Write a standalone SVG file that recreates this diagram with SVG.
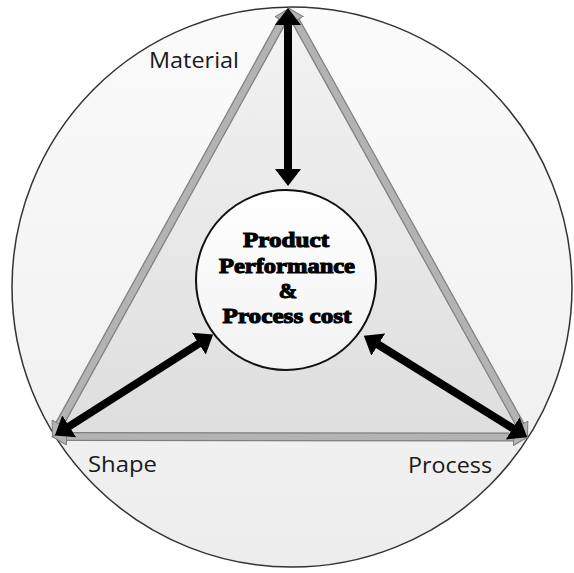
<svg xmlns="http://www.w3.org/2000/svg" width="574" height="573" viewBox="0 0 574 573">
<defs>
<linearGradient id="gOuter" x1="0" y1="0" x2="0" y2="1">
<stop offset="0" stop-color="#fbfbfb"/>
<stop offset="1" stop-color="#ededed"/>
</linearGradient>
<linearGradient id="gTri" x1="0" y1="0" x2="0" y2="1">
<stop offset="0" stop-color="#f3f3f3"/>
<stop offset="1" stop-color="#dedede"/>
</linearGradient>
<linearGradient id="gInner" x1="0" y1="0" x2="0" y2="1">
<stop offset="0" stop-color="#ffffff"/>
<stop offset="1" stop-color="#f2f2f2"/>
</linearGradient>
<marker id="ah" markerUnits="userSpaceOnUse" viewBox="0 0 17 26" markerWidth="17" markerHeight="26" refX="5" refY="13" orient="auto-start-reverse">
<path d="M0,0 L17,13 L0,26 z" fill="#000"/>
</marker>
<marker id="gh" markerUnits="userSpaceOnUse" viewBox="0 0 16 18" markerWidth="16" markerHeight="18" refX="4" refY="9" orient="auto-start-reverse">
<path d="M0.5,0.5 L15,9 L0.5,17.5 z" fill="#b3b3b3" stroke="#7f7f7f" stroke-width="1"/>
</marker>
<style>
.lbl{font-family:"Open Sans","Liberation Sans",sans-serif;font-size:22px;fill:#1a1a1a}
.ctr{font-family:"Liberation Serif",serif;font-weight:bold;font-size:22px;fill:#000;stroke:#000;stroke-width:1.1;text-anchor:middle}
.gedge{stroke:#7f7f7f;stroke-width:9;fill:none}
.gedge2{stroke:#b3b3b3;stroke-width:6.5;fill:none}
.bk{stroke:#000;stroke-width:8;fill:none;marker-start:url(#ah);marker-end:url(#ah)}
</style>
</defs>
<g id="outer">
<circle cx="292" cy="287" r="280" fill="url(#gOuter)" stroke="#333" stroke-width="1.5"/>
</g>
<g id="triangle">
<polygon points="289,9 53,436 527,437" fill="url(#gTri)"/>
</g>
<g id="connectors">
<g id="triangle-edges">
<line class="gedge" x1="57.8" y1="427.2" x2="284.2" y2="17.8"/>
<line class="gedge" x1="293.9" y1="17.7" x2="522.1" y2="428.3"/>
<line class="gedge" x1="63" y1="436.5" x2="517" y2="437"/>
<line class="gedge2" x1="57.8" y1="427.2" x2="284.2" y2="17.8" marker-start="url(#gh)" marker-end="url(#gh)"/>
<line class="gedge2" x1="293.9" y1="17.7" x2="522.1" y2="428.3" marker-start="url(#gh)" marker-end="url(#gh)"/>
<line class="gedge2" x1="63" y1="436.5" x2="517" y2="437" marker-start="url(#gh)" marker-end="url(#gh)"/>
</g>
</g>
<g id="center">
<circle cx="286" cy="280" r="90" fill="url(#gInner)" stroke="#111" stroke-width="2"/>
<text class="ctr" x="286" y="247" textLength="86" lengthAdjust="spacingAndGlyphs">Product</text>
<text class="ctr" x="287" y="273" textLength="136" lengthAdjust="spacingAndGlyphs">Performance</text>
<text class="ctr" x="288" y="298">&amp;</text>
<text class="ctr" x="287" y="323" textLength="129" lengthAdjust="spacingAndGlyphs">Process cost</text>
</g>
<g id="connectors-black">
<line class="bk" x1="288" y1="20" x2="288" y2="174"/>
<line class="bk" x1="65" y1="429" x2="203" y2="341"/>
<line class="bk" x1="517" y1="431" x2="374" y2="342"/>
</g>
<g id="material"><text class="lbl" x="149" y="68" textLength="90" lengthAdjust="spacingAndGlyphs">Material</text></g>
<g id="shape"><text class="lbl" x="88" y="472" textLength="69" lengthAdjust="spacingAndGlyphs">Shape</text></g>
<g id="process"><text class="lbl" x="408" y="473" textLength="84" lengthAdjust="spacingAndGlyphs">Process</text></g>
</svg>
